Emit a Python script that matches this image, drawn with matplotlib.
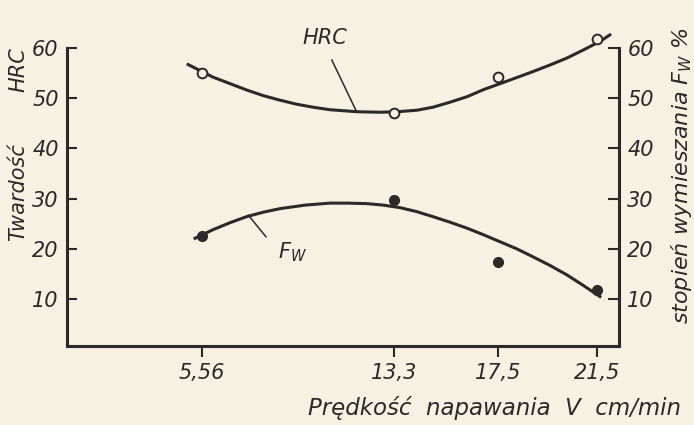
import matplotlib.pyplot as plt

# punkty pomiarowe
v_pts = [5.56, 13.3, 17.5, 21.5]
v_labels = ['5,56', '13,3', '17,5', '21,5']
hrc_pts = [55.1, 47.1, 54.3, 61.8]
fw_pts = [22.5, 29.7, 17.4, 11.8]

# krzywe wyrównujące
hrc_curve_v = [5.00, 6.00, 6.69, 7.38, 8.04, 8.71, 9.38, 10.04, 10.73, 11.82, 12.75, 13.43,
               14.23, 14.88, 15.57, 16.26, 16.92, 17.87, 18.92, 19.60, 20.29, 20.95, 21.62, 22.02]
hrc_curve = [56.7, 54.2, 52.9, 51.6, 50.5, 49.6, 48.8, 48.2, 47.7, 47.3, 47.2, 47.3,
             47.6, 48.2, 49.2, 50.3, 51.7, 53.4, 55.3, 56.6, 58.0, 59.6, 61.3, 62.6]
fw_curve_v = [5.28, 6.00, 6.69, 7.36, 8.04, 8.71, 9.72, 10.73, 11.40, 12.21, 12.88, 13.55,
              14.23, 14.88, 15.57, 16.26, 16.92, 17.59, 18.26, 18.92, 19.60, 20.29, 20.95, 21.62]
fw_curve = [22.1, 23.8, 25.2, 26.4, 27.3, 28.0, 28.7, 29.1, 29.1, 29.0, 28.7, 28.2,
            27.4, 26.4, 25.3, 24.1, 22.8, 21.4, 20.0, 18.4, 16.7, 14.8, 12.7, 10.5]

y_ticks = [10, 20, 30, 40, 50, 60]

paper = '#f5f1e3'
ink = '#2b2a28'
plt.rcParams['font.family'] = ['DejaVu Sans']
plt.rcParams['font.style'] = 'italic'
plt.rcParams['text.color'] = ink

fig = plt.figure(figsize=(6.94, 4.25), dpi=100, facecolor=paper)
ax = fig.add_axes([0.0965, 0.1859, 0.7954, 0.7012])
ax.set_facecolor(paper)

ax.plot(hrc_curve_v, hrc_curve, color=ink, lw=2.2, clip_on=False, solid_joinstyle='round')
ax.plot(fw_curve_v, fw_curve, color=ink, lw=2.2, clip_on=False, solid_joinstyle='round')
ax.plot(v_pts, hrc_pts, 'o', ms=7, mfc=paper, mec=ink, mew=1.4, clip_on=False, zorder=3)
ax.plot(v_pts, fw_pts, 'o', ms=7, mfc=ink, mec=ink, clip_on=False, zorder=3)

# opisy krzywych
ax.text(10.52, 62.0, 'HRC', fontsize=15, ha='center', va='center')
ax.plot([10.80, 11.80], [57.6, 47.3], color=ink, lw=1.1, clip_on=False)
ax.text(9.2, 19.4, '$F_W$', fontsize=15, ha='center', va='center')
ax.plot([7.43, 8.14], [26.7, 22.4], color=ink, lw=1.1)

ax.set_xlim(0.11, 22.39)
ax.set_ylim(0.64, 60)
ax.set_xticks(v_pts)
ax.set_xticklabels(v_labels)
ax.set_yticks(y_ticks)
ax.tick_params(axis='x', direction='out', length=8, width=1.5, pad=4, labelsize=15, colors=ink)
ax.tick_params(axis='y', direction='in', length=7, width=1.5, pad=6, labelsize=15, colors=ink)
for s in ['top', 'right']:
    ax.spines[s].set_visible(False)
for s in ['left', 'bottom']:
    ax.spines[s].set_linewidth(2.2)
    ax.spines[s].set_color(ink)

ax2 = ax.twinx()
ax2.set_ylim(0.64, 60)
ax2.set_yticks(y_ticks)
ax2.tick_params(axis='y', direction='in', length=8, width=1.5, pad=6, labelsize=15, colors=ink)
for s in ['top', 'left', 'bottom']:
    ax2.spines[s].set_visible(False)
ax2.spines['right'].set_linewidth(2.2)
ax2.spines['right'].set_color(ink)

# opisy osi
fig.text(18 / 694, 1 - 70 / 425, 'HRC', fontsize=15, rotation=90, ha='center', va='center')
fig.text(18 / 694, 1 - 192 / 425, 'Twardość', fontsize=15, rotation=90, ha='center', va='center')
fig.text(682 / 694, 1 - 176 / 425, 'stopień wymieszania $F_W$ %', fontsize=16, rotation=90,
         ha='center', va='center')
fig.text(495 / 694, 1 - 408 / 425, 'Prędkość  napawania  V  cm/min', fontsize=16.5,
         ha='center', va='center')

fig.savefig('out.png', dpi=100, facecolor=paper)
